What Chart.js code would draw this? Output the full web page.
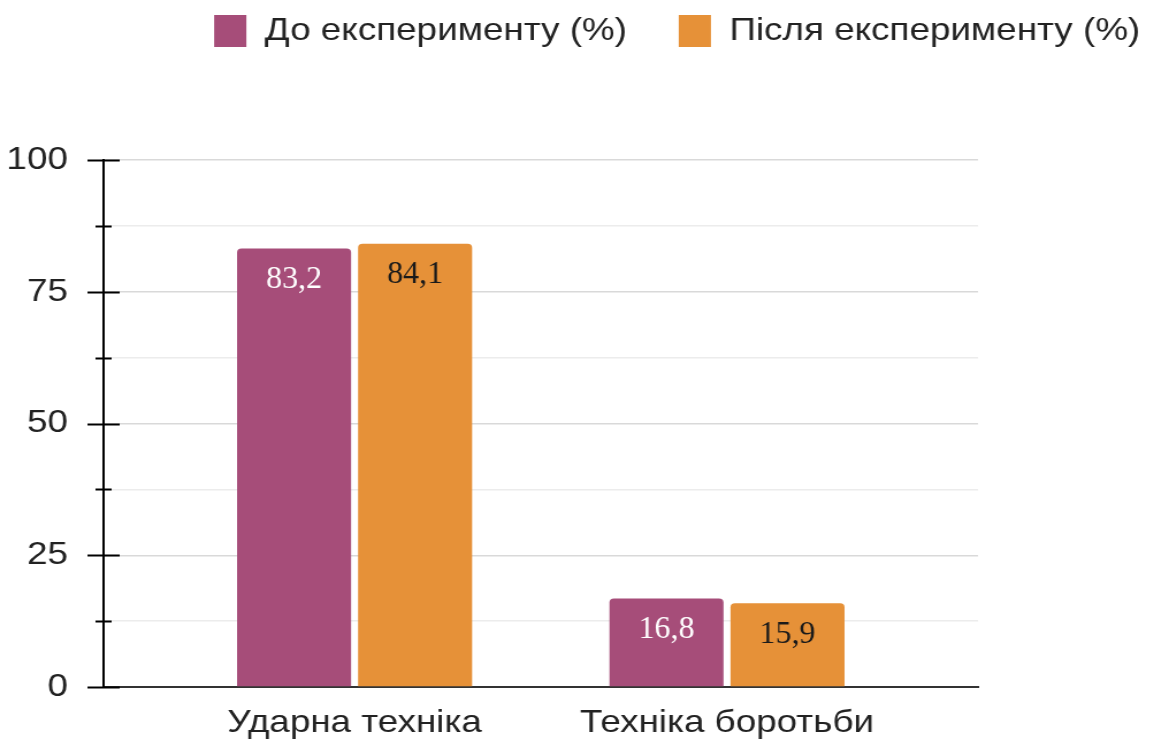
<!DOCTYPE html>
<html>
<head>
<meta charset="utf-8">
<script src="https://cdn.jsdelivr.net/npm/chart.js@4"></script>
<style>
  html, body { margin: 0; padding: 0; background: #fff; }
  #chart { display: block; }
</style>
</head>
<body>
<!-- полотно малюється вужчим і розтягується по горизонталі, як у зразку -->
<canvas id="chart" width="1016" height="742" style="width:1169px;height:742px"></canvas>
<script>
// дані з діаграми
const categories = ["Ударна техніка", "Техніка боротьби"];
const seriesNames = ["До експерименту (%)", "Після експерименту (%)"];
const beforeValues = [83.2, 16.8];
const afterValues = [84.1, 15.9];
const yTickLabels = [0, 25, 50, 75, 100];

const colors = ["#a64d79", "#e69138"];
const labelColors = ["#ffffff", "#1a1a1a"];
const STRETCH = 1169 / 1016;

Chart.defaults.font.family = "Arial, 'Liberation Sans', sans-serif";
Chart.defaults.color = "#222";

function fmt(v) {
  return v.toFixed(1).replace(".", ",");
}

// підписи значень всередині стовпців (без розтягування)
const barLabels = {
  id: "barLabels",
  afterDatasetsDraw(chart) {
    const ctx = chart.ctx;
    ctx.font = "32px 'Times New Roman', 'Liberation Serif', serif";
    ctx.textAlign = "center";
    ctx.textBaseline = "middle";
    chart.data.datasets.forEach((ds, i) => {
      chart.getDatasetMeta(i).data.forEach((bar, j) => {
        ctx.save();
        ctx.translate(bar.x, bar.y + 31);
        ctx.scale(1 / STRETCH, 1);
        ctx.fillStyle = labelColors[i];
        ctx.fillText(fmt(ds.data[j].y), 0, 0);
        ctx.restore();
      });
    });
  }
};

// риски на осі Y, що перетинають лінію осі
const crossTicks = {
  id: "crossTicks",
  afterDraw(chart) {
    const y = chart.scales.y;
    const ctx = chart.ctx;
    const x0 = chart.chartArea.left;
    ctx.save();
    ctx.strokeStyle = "#000";
    ctx.lineWidth = 2;
    y.ticks.forEach(t => {
      const py = Math.round(y.getPixelForValue(t.value)) + 0.5;
      const len = yTickLabels.includes(t.value) ? 14 : 7;
      ctx.beginPath();
      ctx.moveTo(x0 - len, py);
      ctx.lineTo(x0 + len, py);
      ctx.stroke();
    });
    ctx.restore();
  }
};

// легенда: висота і зсув
const legendPlace = {
  id: "legendPlace",
  beforeInit(chart) {
    const fit = chart.legend.fit;
    chart.legend.fit = function () {
      fit.call(this);
      this.height = 160;
    };
  },
  afterLayout(chart) {
    const l = chart.legend;
    l.top -= 30;
    l.bottom -= 30;
    l.left += 20;
    l.right += 20;
  }
};

const ctx = document.getElementById("chart").getContext("2d");
new Chart(ctx, {
  type: "bar",
  data: {
    datasets: [
      {
        label: seriesNames[0],
        data: categories.map((c, i) => ({ x: i, y: beforeValues[i] })),
        backgroundColor: colors[0],
        borderRadius: 4,
        yAxisID: "y"
      },
      {
        label: seriesNames[1],
        data: categories.map((c, i) => ({ x: i, y: afterValues[i] })),
        backgroundColor: colors[1],
        borderRadius: 4,
        yAxisID: "y"
      }
    ]
  },
  options: {
    responsive: false,
    devicePixelRatio: 1,
    animation: false,
    categoryPercentage: 0.65,
    barPercentage: 0.942,
    layout: { padding: 0 },
    plugins: {
      legend: {
        position: "top",
        align: "end",
        labels: {
          boxWidth: 28,
          boxHeight: 32,
          padding: 45,
          color: "#222",
          font: { size: 32 }
        }
      },
      tooltip: { enabled: false }
    },
    scales: {
      x: {
        type: "linear",
        min: -0.674,
        max: 1.674,
        offset: false,
        grid: { display: false, drawTicks: false, offset: false },
        border: { display: true, color: "#333", width: 2 },
        afterBuildTicks(scale) {
          scale.ticks = categories.map((c, i) => ({ value: i }));
        },
        afterFit(scale) {
          scale.height = 55;
        },
        ticks: {
          autoSkip: false,
          maxRotation: 0,
          padding: 17,
          color: "#222",
          font: { size: 32 },
          callback: v => categories[v]
        }
      },
      y: {
        min: 0,
        max: 100,
        grid: {
          color: c => (c.tick && yTickLabels.includes(c.tick.value)) ? "#d9d9d9" : "#ececec",
          lineWidth: 1.5,
          drawTicks: true,
          tickLength: 14,
          tickColor: "transparent"
        },
        border: { display: true, color: "#000", width: 2 },
        afterFit(scale) {
          scale.width = 90;
        },
        ticks: {
          stepSize: 12.5,
          padding: 17,
          color: "#222",
          font: { size: 32 },
          callback: v => yTickLabels.includes(v) ? v : ""
        }
      },
      yPad: {
        position: "right",
        display: true,
        grid: { display: false },
        border: { display: false },
        ticks: { display: false },
        afterFit(scale) {
          scale.width = 166;
        }
      }
    }
  },
  plugins: [barLabels, crossTicks, legendPlace]
});
</script>
</body>
</html>
